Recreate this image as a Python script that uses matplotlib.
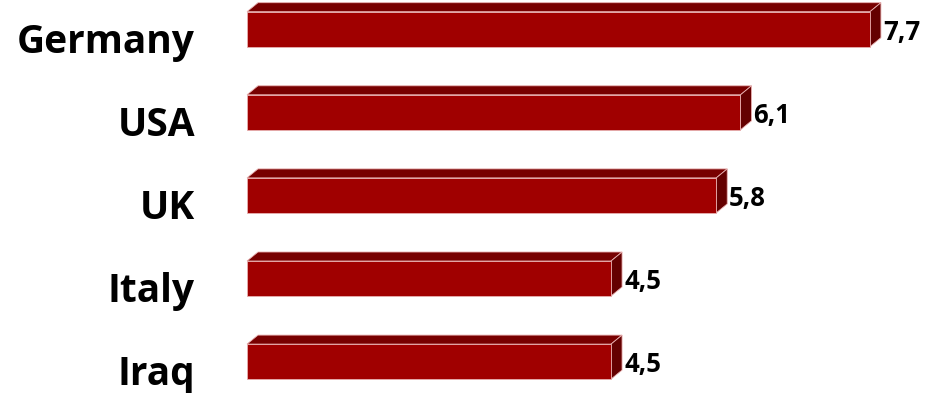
import matplotlib
matplotlib.use("Agg")
import matplotlib.pyplot as plt
from matplotlib.patches import Polygon
from matplotlib import transforms

categories = ["Germany", "USA", "UK", "Italy", "Iraq"]
values = [7.7, 6.1, 5.8, 4.5, 4.5]
value_labels = ["7,7", "6,1", "5,8", "4,5", "4,5"]

W, H, DPI = 929, 393, 100
fig = plt.figure(figsize=(W / DPI, H / DPI), dpi=DPI)
ax = fig.add_axes([0, 0, 1, 1])
ax.axis("off")

px_per_unit = 80.9
x0_px = 247
ax.set_xlim(-x0_px / px_per_unit, (W - x0_px) / px_per_unit)
spacing = 83.1
top_c = 29.2
ax.set_ylim((H - top_c) / spacing, -top_c / spacing)

bar_h = 35 / spacing
dx = 11 / px_per_unit
dy = 9 / spacing

front = "#A00000"
topc = "#780000"
sidec = "#640000"
edge = "#E8B0B0"

for i, v in enumerate(values):
    y0 = i - bar_h / 2
    y1 = i + bar_h / 2
    ax.add_patch(Polygon([(0, y0), (dx, y0 - dy), (v + dx, y0 - dy), (v, y0)],
                         closed=True, facecolor=topc, edgecolor=edge, linewidth=0.6, zorder=2))
    ax.add_patch(Polygon([(v, y0), (v + dx, y0 - dy), (v + dx, y1 - dy), (v, y1)],
                         closed=True, facecolor=sidec, edgecolor=edge, linewidth=0.6, zorder=2))
    ax.barh(i, v, height=bar_h, left=0, color=front, edgecolor=edge, linewidth=0.6, zorder=3)

    off = transforms.offset_copy(ax.transData, fig=fig, x=13, y=-3, units="dots")
    ax.text(v, i, value_labels[i], transform=off, ha="left", va="center",
            fontsize=18.5, fontweight="bold", family="Open Sans", color="black")

    offc = transforms.offset_copy(ax.transData, fig=fig, x=-52, y=-23.5, units="dots")
    ax.text(0, i, categories[i], transform=offc, ha="right", va="baseline",
            fontsize=28, fontweight="bold", family="Open Sans", color="black")

fig.savefig("out.png", dpi=DPI, facecolor="white")
